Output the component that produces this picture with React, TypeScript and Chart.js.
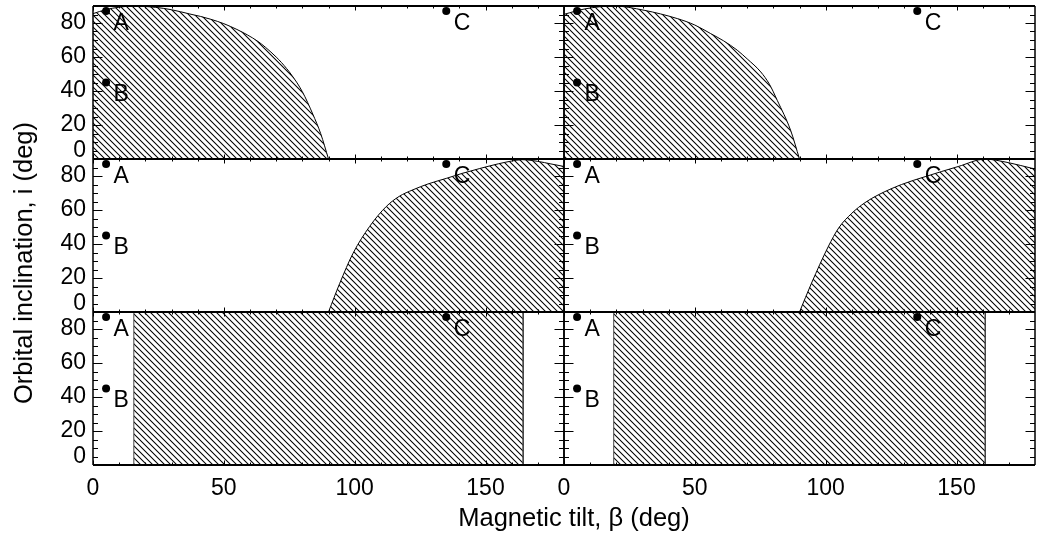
import React, { useEffect, useRef } from 'react';
import { Chart, registerables } from 'chart.js';

Chart.register(...registerables);

// ---------- data ----------
const X_TICKS = [0, 50, 100, 150];
const X_MINOR = [10, 20, 30, 40, 60, 70, 80, 90, 110, 120, 130, 140, 160, 170];
const Y_TICKS = [0, 20, 40, 60, 80];
const Y_MINOR = [5, 10, 15, 25, 30, 35, 45, 50, 55, 65, 70, 75, 85];

// top-left panel boundary
const topLeftBeta = [0, 5, 10, 15.5, 24, 30, 37, 41, 45, 50, 55, 59, 63, 66, 70, 72, 76, 80, 84, 87, 90];
const topLeftIncl = [85.5, 87.9, 89.3, 90, 89.2, 87.8, 85.3, 83.9, 82.2, 79.6, 76.2, 73, 69.2, 65.6, 60, 56.8, 49.2, 39.6, 26.4, 15, 0];

// top-right panel boundary
const topRightBeta = [0, 8, 19, 30.6, 43.3, 50, 56, 61, 66.2, 70, 75.2, 78.5, 81.5, 86.6, 90];
const topRightIncl = [85.1, 88.3, 90, 87.5, 82.6, 78.8, 73.8, 69.5, 64, 58.9, 51.2, 44, 34.5, 16.9, 0];

// middle-left panel boundary
const midLeftBeta = [90, 94.3, 99.4, 105.7, 112.1, 117, 122.3, 128, 135, 141, 147.8, 155, 160, 164, 170, 175, 180];
const midLeftIncl = [0, 16.9, 34.6, 50.3, 62.1, 68, 71.9, 75.3, 78.6, 81.5, 84.4, 87.2, 88.8, 89.6, 88.6, 87.1, 85.6];

// middle-right panel boundary
const midRightBeta = [90, 94.6, 101, 105, 110, 115, 120.1, 129, 138, 150.7, 160.9, 170, 178.7, 180];
const midRightIncl = [0, 17, 38.5, 49.5, 58.1, 64.3, 68.9, 75, 79.6, 85.6, 89.9, 87.8, 84.6, 84.2];

// bottom panels: hatched band edges (beta) spanning full inclination range
const bandLeftEdges = [15.6, 164.4];
const bandRightEdges = [19, 161];
const bandIncl = [0, 90, 90, 0];

// reference points
const markerNames = ['A', 'B', 'C'];
const markerBeta = [5, 5, 135];
const markerIncl = [87, 45, 87];

const X_TITLE = 'Magnetic tilt, \u03b2 (deg)';
const Y_TITLE = 'Orbital inclination, i (deg)';

// ---------- layout ----------
const W = 1040;
const H = 539;
const COL_LEFT = [93, 564];
const PANEL_W = 471;
const ROW_TOP = [6, 159, 312];
const PANEL_H = 153;
const Y_AXIS_W = 86;
const X_AXIS_H = 40;
const FONT = "'Liberation Sans', Arial, Helvetica, sans-serif";
const TICK_FONT_SIZE = 23;

type PanelSpec = { row: number; col: number; beta: number[]; incl: number[]; smooth: boolean };

const PANELS: PanelSpec[] = [
  { row: 0, col: 0, beta: topLeftBeta, incl: topLeftIncl, smooth: true },
  { row: 0, col: 1, beta: topRightBeta, incl: topRightIncl, smooth: true },
  { row: 1, col: 0, beta: midLeftBeta, incl: midLeftIncl, smooth: true },
  { row: 1, col: 1, beta: midRightBeta, incl: midRightIncl, smooth: true },
  {
    row: 2, col: 0,
    beta: [bandLeftEdges[0], bandLeftEdges[0], bandLeftEdges[1], bandLeftEdges[1]],
    incl: bandIncl, smooth: false,
  },
  {
    row: 2, col: 1,
    beta: [bandRightEdges[0], bandRightEdges[0], bandRightEdges[1], bandRightEdges[1]],
    incl: bandIncl, smooth: false,
  },
];

function makeHatch(): CanvasPattern | string {
  const s = 6;
  const c = document.createElement('canvas');
  c.width = s;
  c.height = s;
  const g = c.getContext('2d');
  if (!g) return '#888';
  g.strokeStyle = '#000';
  g.lineWidth = 1.05;
  g.beginPath();
  g.moveTo(-1, -1);
  g.lineTo(s + 1, s + 1);
  g.moveTo(-1, s - 1);
  g.lineTo(1, s + 1);
  g.moveTo(s - 1, -1);
  g.lineTo(s + 1, 1);
  g.stroke();
  return g.createPattern(c, 'repeat') || '#888';
}

const framePlugin = {
  id: 'panelFrame',
  afterDatasetsDraw(chart: any) {
    const { ctx, chartArea } = chart;
    const { left, top, right, bottom } = chartArea;
    const xs = chart.scales.x;
    const ys = chart.scales.y;
    ctx.save();
    ctx.strokeStyle = '#000';
    ctx.lineWidth = 1;
    ctx.beginPath();
    const xTick = (v: number, len: number) => {
      const p = Math.round(xs.getPixelForValue(v)) + 0.5;
      ctx.moveTo(p, bottom);
      ctx.lineTo(p, bottom - len);
      ctx.moveTo(p, top);
      ctx.lineTo(p, top + len);
    };
    const yTick = (v: number, len: number) => {
      const p = Math.round(ys.getPixelForValue(v)) + 0.5;
      ctx.moveTo(left, p);
      ctx.lineTo(left + len, p);
      ctx.moveTo(right, p);
      ctx.lineTo(right - len, p);
    };
    X_TICKS.forEach((v) => xTick(v, 4.5));
    X_MINOR.forEach((v) => xTick(v, 2.5));
    Y_TICKS.forEach((v) => yTick(v, 9.5));
    Y_MINOR.forEach((v) => yTick(v, 5));
    ctx.stroke();

    ctx.lineWidth = 2;
    ctx.beginPath();
    ctx.moveTo(left, top);
    ctx.lineTo(right, top);
    ctx.moveTo(left, bottom);
    ctx.lineTo(right, bottom);
    ctx.stroke();
    ctx.lineWidth = 1.5;
    ctx.beginPath();
    ctx.moveTo(left, top);
    ctx.lineTo(left, bottom);
    ctx.moveTo(right, top);
    ctx.lineTo(right, bottom);
    ctx.stroke();

    ctx.fillStyle = '#000';
    ctx.font = `23px ${FONT}`;
    ctx.textAlign = 'left';
    ctx.textBaseline = 'alphabetic';
    markerNames.forEach((name, i) => {
      const px = xs.getPixelForValue(markerBeta[i]);
      const py = ys.getPixelForValue(markerIncl[i]);
      ctx.fillText(name, px + 7.5, py + 18.5);
    });
    ctx.restore();
  },
};

function zeroPad(s: any) {
  s.paddingTop = 0;
  s.paddingBottom = 0;
  s.paddingLeft = 0;
  s.paddingRight = 0;
}

function Panel({ spec }: { spec: PanelSpec }) {
  const ref = useRef<HTMLCanvasElement>(null);
  useEffect(() => {
    const canvas = ref.current;
    if (!canvas) return;
    const isLeft = spec.col === 0;
    const isBottom = spec.row === 2;
    const left = COL_LEFT[spec.col];
    const top = ROW_TOP[spec.row];
    const right = left + PANEL_W;
    const bottom = top + PANEL_H;
    const hatch = makeHatch();

    const chart = new Chart(canvas, {
      type: 'line',
      data: {
        datasets: [
          {
            data: spec.beta.map((b, i) => ({ x: b, y: spec.incl[i] })),
            borderColor: spec.smooth ? '#000' : '#444',
            borderWidth: 1,
            pointRadius: 0,
            fill: 'origin',
            backgroundColor: hatch as any,
            cubicInterpolationMode: spec.smooth ? 'monotone' : 'default',
            tension: 0,
          },
          {
            data: markerBeta.map((b, i) => ({ x: b, y: markerIncl[i] })),
            showLine: false,
            pointRadius: 4,
            pointBackgroundColor: '#000',
            pointBorderWidth: 0,
            borderWidth: 0,
            fill: false,
            clip: false as any,
          },
        ],
      },
      options: {
        responsive: false,
        animation: false,
        devicePixelRatio: 1,
        events: [],
        layout: {
          padding: {
            left: isLeft ? left - Y_AXIS_W : left,
            top,
            right: W - right,
            bottom: isBottom ? H - bottom - X_AXIS_H : H - bottom,
          },
        },
        plugins: { legend: { display: false }, tooltip: { enabled: false }, title: { display: false } },
        scales: {
          x: {
            type: 'linear',
            min: 0,
            max: 180,
            display: isBottom,
            grid: { display: false, drawTicks: false },
            border: { display: false },
            afterBuildTicks: (s: any) => {
              s.ticks = X_TICKS.map((v) => ({ value: v }));
            },
            afterFit: (s: any) => {
              s.height = isBottom ? X_AXIS_H : 0;
              zeroPad(s);
            },
            ticks: {
              autoSkip: false,
              maxRotation: 0,
              minRotation: 0,
              padding: 10,
              color: '#000',
              font: { family: FONT, size: TICK_FONT_SIZE, lineHeight: 1.2 },
              callback: (v: any) => String(v),
            },
          },
          y: {
            type: 'linear',
            min: 0,
            max: 90,
            display: isLeft,
            grid: { display: false, drawTicks: false },
            border: { display: false },
            afterBuildTicks: (s: any) => {
              s.ticks = Y_TICKS.map((v) => ({ value: v }));
            },
            afterFit: (s: any) => {
              s.width = isLeft ? Y_AXIS_W : 0;
              zeroPad(s);
            },
            ticks: {
              autoSkip: false,
              padding: 7,
              color: '#000',
              font: (c: any) => ({
                family: FONT,
                size: TICK_FONT_SIZE,
                lineHeight: c && c.index === 0 ? '16px' : 1.2,
              }),
              callback: (v: any) => (v === 0 ? ['0', ''] : String(v)),
            },
          },
        },
      } as any,
      plugins: [framePlugin],
    });
    return () => chart.destroy();
  }, [spec]);

  return (
    <canvas
      ref={ref}
      width={W}
      height={H}
      style={{ position: 'absolute', left: 0, top: 0, width: W, height: H }}
    />
  );
}

export default function App() {
  return (
    <div
      style={{
        position: 'fixed',
        left: 0,
        top: 0,
        width: W,
        height: H,
        background: '#fff',
        overflow: 'hidden',
      }}
    >
      {PANELS.map((p, i) => (
        <Panel key={i} spec={p} />
      ))}
      <div
        style={{
          position: 'absolute',
          left: 574,
          top: 517,
          transform: 'translate(-50%, -50%)',
          whiteSpace: 'nowrap',
          fontFamily: FONT,
          fontSize: 25.5,
          lineHeight: '30px',
          color: '#000',
        }}
      >
        {X_TITLE}
      </div>
      <div
        style={{
          position: 'absolute',
          left: 23,
          top: 263,
          transform: 'translate(-50%, -50%) rotate(-90deg)',
          whiteSpace: 'nowrap',
          fontFamily: FONT,
          fontSize: 25.5,
          lineHeight: '30px',
          color: '#000',
        }}
      >
        {Y_TITLE}
      </div>
    </div>
  );
}
